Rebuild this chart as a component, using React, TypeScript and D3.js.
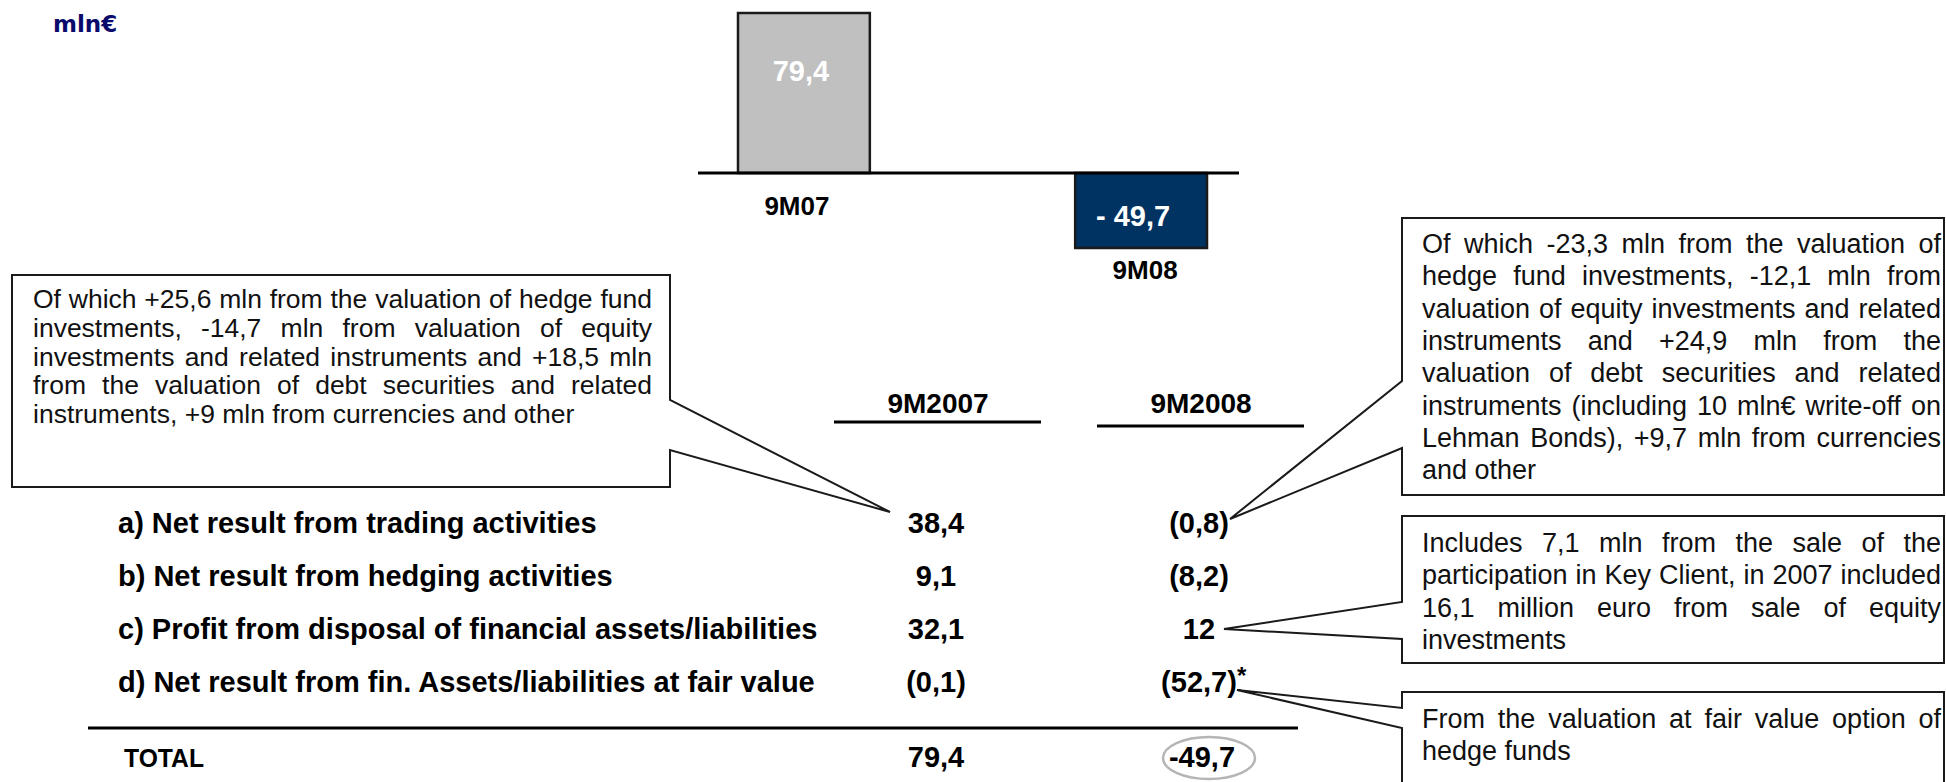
import React from "react";
import * as d3 from "d3";

const W = 1946;
const H = 782;

// ---------- data ----------
const unitLabel = "mln€";
const barCategories = ["9M07", "9M08"];
const barValues = [79.4, -49.7];
const tableColumns = ["9M2007", "9M2008"];
const rowLabels = [
  "a) Net result from trading activities",
  "b) Net result from hedging activities",
  "c) Profit from disposal of financial assets/liabilities",
  "d) Net result from fin. Assets/liabilities at fair value",
];
const values2007 = [38.4, 9.1, 32.1, -0.1];
const values2008 = [-0.8, -8.2, 12, -52.7];
const rowMarks2008 = ["", "", "", "*"];
const totalLabel = "TOTAL";
const totals = [79.4, -49.7];

const noteTrading2007 = [
  "Of which +25,6 mln from the valuation of hedge fund",
  "investments, -14,7 mln from valuation of equity",
  "investments and related instruments and +18,5 mln",
  "from the valuation of debt securities and related",
  "instruments, +9 mln from currencies and other",
];
const noteTrading2008 = [
  "Of which -23,3 mln from the valuation of",
  "hedge fund investments, -12,1 mln from",
  "valuation of equity investments and related",
  "instruments and +24,9 mln from the",
  "valuation of debt securities and related",
  "instruments (including 10 mln€ write-off on",
  "Lehman Bonds), +9,7 mln from currencies",
  "and other",
];
const noteDisposal2008 = [
  "Includes 7,1 mln from the sale of the",
  "participation in Key Client, in 2007 included",
  "16,1 million euro from sale of equity",
  "investments",
];
const noteFairValue2008 = [
  "From the valuation at fair value option of",
  "hedge funds",
];

// ---------- helpers ----------
const itLocale = d3.formatLocale({ decimal: ",", thousands: ".", grouping: [3], currency: ["", "€"] });
const f1 = itLocale.format(".1f");
const fmtNum = (v: number) => (Number.isInteger(v) ? String(Math.abs(v)) : f1(Math.abs(v)));
const fmtRow = (v: number) => (v < 0 ? `(${fmtNum(v)})` : fmtNum(v));
const fmtBar = (v: number) => (v < 0 ? `- ${fmtNum(v)}` : fmtNum(v));
const fmtTotal = (v: number) => (v < 0 ? `-${fmtNum(v)}` : fmtNum(v));

const SANS = "'Liberation Sans', Arial, Helvetica, sans-serif";

let _ctx: CanvasRenderingContext2D | null = null;
function measure(text: string, font: string) {
  if (!_ctx) _ctx = document.createElement("canvas").getContext("2d");
  if (!_ctx) return text.length * 10;
  _ctx.font = font;
  return _ctx.measureText(text).width;
}

function JustifiedText({
  lines, x0, x1, y0, lh, size,
}: { lines: string[]; x0: number; x1: number; y0: number; lh: number; size: number }) {
  const font = `${size}px 'Liberation Sans'`;
  const out: any[] = [];
  lines.forEach((line, li) => {
    const words = line.split(" ");
    const ws = words.map((w) => measure(w, font));
    const sp = measure(" ", font);
    const last = li === lines.length - 1;
    const gap = !last && words.length > 1 ? (x1 - x0 - d3.sum(ws)) / (words.length - 1) : sp;
    let x = x0;
    words.forEach((w, wi) => {
      out.push(
        <text key={`${li}-${wi}`} x={x} y={y0 + li * lh} fontSize={size} fontFamily={SANS} fill="#111">
          {w}
        </text>
      );
      x += ws[wi] + gap;
    });
  });
  return <g>{out}</g>;
}

export default function App() {
  // bar chart scales
  const xBar = d3.scaleBand<string>().domain(barCategories).range([738, 1207]).paddingInner(0.609).paddingOuter(0);
  const yBar = d3
    .scaleLinear()
    .domain([d3.min(barValues)!, 0, d3.max(barValues)!])
    .range([248, 173, 13]);

  // table scales
  const xCol = d3.scalePoint<string>().domain(tableColumns).range([936, 1199]);
  const yRow = d3.scalePoint<string>().domain(rowLabels).range([533, 692]);
  const totalY = 767;
  const underlineY = [422, 426];

  const boldFont = `bold 29px 'Liberation Sans'`;
  const boxStroke = "#1a1a1a";

  return (
    <svg
      width={W}
      height={H}
      viewBox={`0 0 ${W} ${H}`}
      style={{ position: "absolute", left: 0, top: 0, background: "#fff" }}
    >
      <rect x={0} y={0} width={W} height={H} fill="#fff" />
      {/* unit */}
      <text x={53} y={32} fontSize={23} fontWeight="bold" fontFamily="'DejaVu Sans', Verdana, sans-serif" fill="#0b0b6b">
        {unitLabel}
      </text>

      {/* bars */}
      {barCategories.map((c, i) => {
        const v = barValues[i];
        const y0 = yBar(0);
        const y1 = yBar(v);
        const top = Math.min(y0, y1);
        const h = Math.abs(y1 - y0);
        return (
          <rect
            key={c}
            x={xBar(c)}
            y={top}
            width={xBar.bandwidth()}
            height={h}
            fill={v >= 0 ? "#c0c0c0" : "#003262"}
            stroke="#1a1a1a"
            strokeWidth={2.5}
          />
        );
      })}
      <line x1={698} x2={1239} y1={yBar(0)} y2={yBar(0)} stroke="#000" strokeWidth={3} />
      {barCategories.map((c, i) => {
        const v = barValues[i];
        const cx = (xBar(c) as number) + xBar.bandwidth() / 2;
        const pos = v >= 0;
        return (
          <g key={`l-${c}`}>
            <text
              x={pos ? cx - 3 : cx - 8}
              y={pos ? yBar(v) + 68 : yBar(0) + 53}
              textAnchor="middle"
              fontSize={29}
              fontWeight="bold"
              fontFamily={SANS}
              fill="#fff"
            >
              {fmtBar(v)}
            </text>
            <text
              x={pos ? cx - 7 : cx + 4}
              y={pos ? yBar(0) + 42 : yBar(v) + 31}
              textAnchor="middle"
              fontSize={26}
              fontWeight="bold"
              fontFamily={SANS}
              fill="#000"
            >
              {c}
            </text>
          </g>
        );
      })}

      {/* table headers */}
      {tableColumns.map((c, i) => (
        <g key={c}>
          <text x={xCol(c)! + 2} y={413} textAnchor="middle" fontSize={28} fontWeight="bold" fontFamily={SANS} fill="#000">
            {c}
          </text>
          <line x1={xCol(c)! - 102} x2={xCol(c)! + 105} y1={underlineY[i]} y2={underlineY[i]} stroke="#000" strokeWidth={3} />
        </g>
      ))}

      {/* rows */}
      {rowLabels.map((r, i) => (
        <g key={r}>
          <text x={118} y={yRow(r)} fontSize={29} fontWeight="bold" fontFamily={SANS} fill="#000">
            {r}
          </text>
          <text x={xCol(tableColumns[0])} y={yRow(r)} textAnchor="middle" fontSize={29} fontWeight="bold" fontFamily={SANS} fill="#000">
            {fmtRow(values2007[i])}
          </text>
          <text x={xCol(tableColumns[1])} y={yRow(r)} textAnchor="middle" fontSize={29} fontWeight="bold" fontFamily={SANS} fill="#000">
            {fmtRow(values2008[i])}
          </text>
          {rowMarks2008[i] ? (
            <text
              x={xCol(tableColumns[1])! + measure(fmtRow(values2008[i]), boldFont) / 2}
              y={(yRow(r) as number) - 8}
              fontSize={24}
              fontWeight="bold"
              fontFamily={SANS}
              fill="#000"
            >
              {rowMarks2008[i]}
            </text>
          ) : null}
        </g>
      ))}

      {/* total */}
      <line x1={88} x2={1298} y1={728} y2={728} stroke="#000" strokeWidth={3} />
      <text x={124} y={totalY} fontSize={26} fontWeight="bold" fontFamily={SANS} fill="#000" textLength={80} lengthAdjust="spacingAndGlyphs">
        {totalLabel}
      </text>
      <text x={xCol(tableColumns[0])} y={totalY} textAnchor="middle" fontSize={29} fontWeight="bold" fontFamily={SANS} fill="#000">
        {fmtTotal(totals[0])}
      </text>
      <text x={xCol(tableColumns[1])! + 3} y={totalY} textAnchor="middle" fontSize={29} fontWeight="bold" fontFamily={SANS} fill="#000">
        {fmtTotal(totals[1])}
      </text>
      <ellipse cx={1209} cy={758} rx={46} ry={21} fill="none" stroke="#b5b5b5" strokeWidth={2.5} />

      {/* callouts */}
      <path d="M12,275 H670 V400 L890,512 L670,450 V487 H12 Z" fill="#fff" stroke={boxStroke} strokeWidth={2} />
      <JustifiedText lines={noteTrading2007} x0={33} x1={652} y0={308} lh={28.8} size={26.5} />

      <path d="M1402,218 H1944 V495 H1402 V448 L1230,519 L1402,381 Z" fill="#fff" stroke={boxStroke} strokeWidth={2} />
      <JustifiedText lines={noteTrading2008} x0={1422} x1={1941} y0={253} lh={32.3} size={27} />

      <path d="M1402,516 H1944 V663 H1402 V639 L1224,629 L1402,602 Z" fill="#fff" stroke={boxStroke} strokeWidth={2} />
      <JustifiedText lines={noteDisposal2008} x0={1422} x1={1941} y0={552} lh={32.3} size={27} />

      <path d="M1402,692 H1944 V800 H1402 V728 L1237,690 L1402,708 Z" fill="#fff" stroke={boxStroke} strokeWidth={2} />
      <JustifiedText lines={noteFairValue2008} x0={1422} x1={1941} y0={728} lh={32.3} size={27} />
    </svg>
  );
}
